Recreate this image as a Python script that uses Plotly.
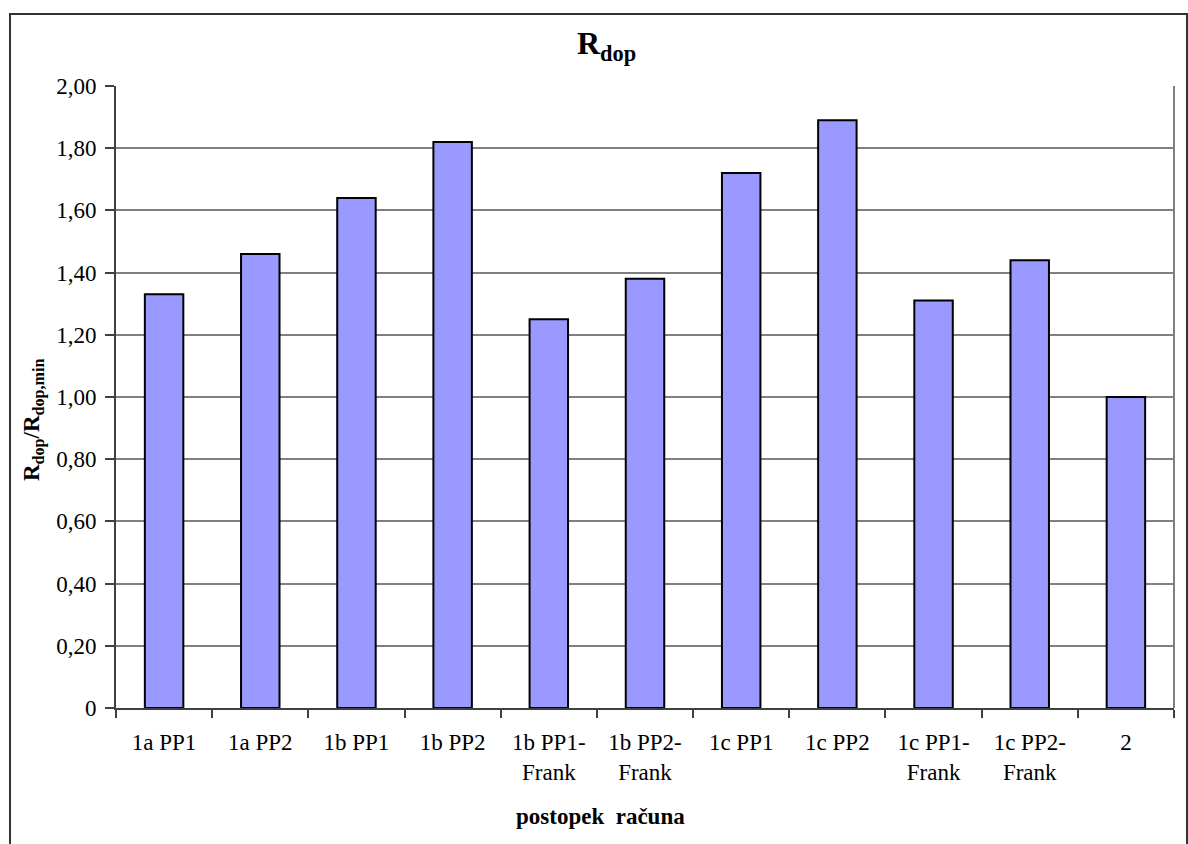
import plotly.graph_objects as go

# Calculation procedures and normalised allowable resistance
categories = [
    "1a PP1", "1a PP2", "1b PP1", "1b PP2", "1b PP1-<br>Frank", "1b PP2-<br>Frank",
    "1c PP1", "1c PP2", "1c PP1-<br>Frank", "1c PP2-<br>Frank", "2",
]
ratio = [1.33, 1.46, 1.64, 1.82, 1.25, 1.38, 1.72, 1.89, 1.31, 1.44, 1.00]

y_tick_values = [0.0, 0.2, 0.4, 0.6, 0.8, 1.0, 1.2, 1.4, 1.6, 1.8, 2.0]
y_tick_labels = ["0", "0,20", "0,40", "0,60", "0,80", "1,00", "1,20", "1,40", "1,60", "1,80", "2,00"]

FONT = "Liberation Serif"
W, H = 1188, 844
ML, MR, MT, MB = 116, 14, 86, 136
PW, PH = W - ML - MR, H - MT - MB


def px(x):
    return (x - ML) / PW


def py(y):
    return (H - MB - y) / PH


fig = go.Figure(
    go.Bar(
        x=categories,
        y=ratio,
        marker=dict(color="#9999FF", line=dict(color="black", width=2)),
        width=0.4,
    )
)

fig.update_layout(
    width=W,
    height=H,
    margin=dict(l=ML, r=MR, t=MT, b=MB),
    paper_bgcolor="white",
    plot_bgcolor="white",
    showlegend=False,
    font=dict(family=FONT, size=23, color="black"),
    xaxis=dict(
        type="category",
        tickson="boundaries",
        ticks="outside",
        ticklen=8,
        tickcolor="#404040",
        tickwidth=1.5,
        ticklabelstandoff=12,
        showline=True,
        linecolor="#404040",
        linewidth=2,
        showgrid=False,
        tickfont=dict(family=FONT, size=23, color="black"),
    ),
    yaxis=dict(
        range=[0, 2],
        tickvals=y_tick_values,
        ticktext=y_tick_labels,
        ticks="outside",
        ticklen=9,
        tickcolor="#404040",
        tickwidth=1.5,
        ticklabelstandoff=4,
        showline=True,
        linecolor="#404040",
        linewidth=2,
        showgrid=True,
        gridcolor="#808080",
        gridwidth=1.5,
        zeroline=False,
        tickfont=dict(family=FONT, size=23, color="black"),
    ),
    shapes=[
        # chart-area frame
        dict(type="rect", xref="paper", yref="paper",
             x0=px(10), x1=px(1187), y0=py(860), y1=py(14),
             line=dict(color="#333333", width=2), layer="below"),
        # right edge of the plot area
        dict(type="line", xref="paper", yref="paper",
             x0=1, x1=1, y0=0, y1=1,
             line=dict(color="#808080", width=2)),
    ],
    annotations=[
        dict(text="<b>R<sub>dop</sub></b>", xref="paper", yref="paper",
             x=px(606), y=py(46), xanchor="center", yanchor="middle",
             showarrow=False, font=dict(family=FONT, size=32, color="black")),
        dict(text="<b>postopek\u00a0 računa</b>", xref="paper", yref="paper",
             x=px(600), y=py(816), xanchor="center", yanchor="middle",
             showarrow=False, font=dict(family=FONT, size=23, color="black")),
        dict(text="<b>R<sub>dop</sub>/R<sub>dop,min</sub></b>", xref="paper", yref="paper",
             x=px(33), y=py(420), xanchor="center", yanchor="middle", textangle=-90,
             showarrow=False, font=dict(family=FONT, size=23, color="black")),
    ],
)

fig.write_html("out.html")
